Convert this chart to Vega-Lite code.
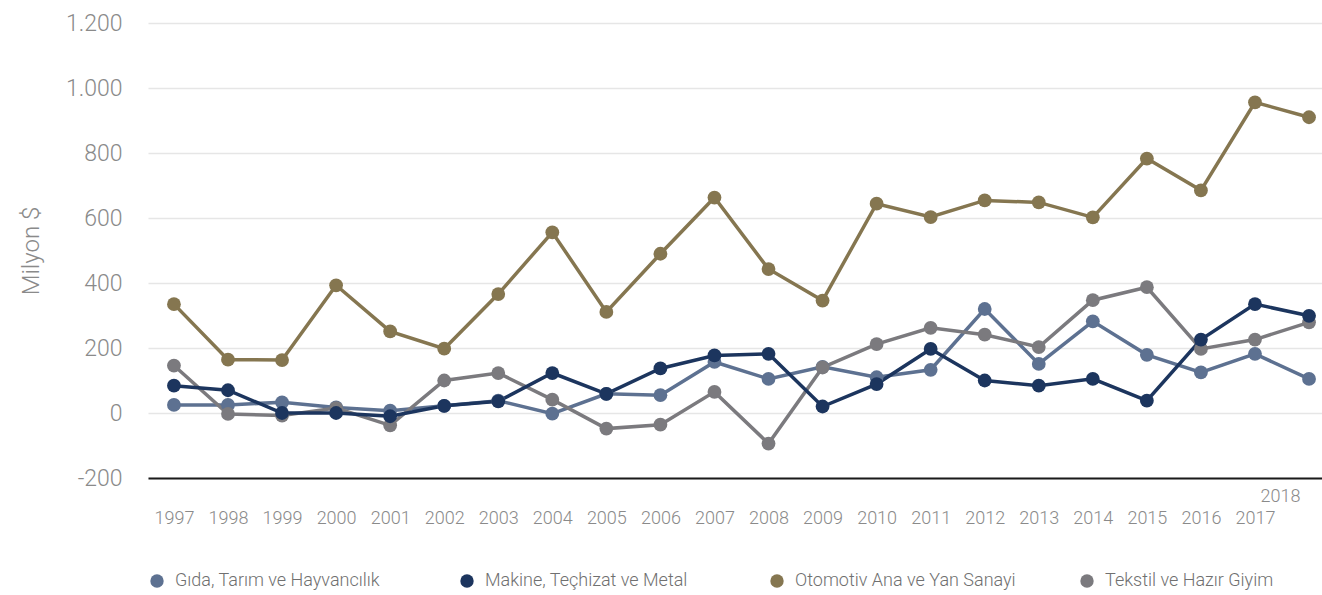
{
  "$schema": "https://vega.github.io/schema/vega-lite/v6.json",
  "width": 1174,
  "height": 455,
  "autosize": {"type": "none"},
  "padding": {"left": 148, "top": 23, "right": 0, "bottom": 117},
  "background": "white",
  "config": {
    "view": {"stroke": null},
    "font": "Roboto"
  },
  "data": {
    "values": [
      {"year": 1997, "series": "Gıda, Tarım ve Hayvancılık", "value": 25},
      {"year": 1998, "series": "Gıda, Tarım ve Hayvancılık", "value": 25},
      {"year": 1999, "series": "Gıda, Tarım ve Hayvancılık", "value": 33},
      {"year": 2000, "series": "Gıda, Tarım ve Hayvancılık", "value": 17},
      {"year": 2001, "series": "Gıda, Tarım ve Hayvancılık", "value": 7},
      {"year": 2002, "series": "Gıda, Tarım ve Hayvancılık", "value": 22},
      {"year": 2003, "series": "Gıda, Tarım ve Hayvancılık", "value": 38},
      {"year": 2004, "series": "Gıda, Tarım ve Hayvancılık", "value": -2},
      {"year": 2005, "series": "Gıda, Tarım ve Hayvancılık", "value": 59},
      {"year": 2006, "series": "Gıda, Tarım ve Hayvancılık", "value": 55},
      {"year": 2007, "series": "Gıda, Tarım ve Hayvancılık", "value": 157},
      {"year": 2008, "series": "Gıda, Tarım ve Hayvancılık", "value": 105},
      {"year": 2009, "series": "Gıda, Tarım ve Hayvancılık", "value": 142},
      {"year": 2010, "series": "Gıda, Tarım ve Hayvancılık", "value": 110},
      {"year": 2011, "series": "Gıda, Tarım ve Hayvancılık", "value": 133},
      {"year": 2012, "series": "Gıda, Tarım ve Hayvancılık", "value": 320},
      {"year": 2013, "series": "Gıda, Tarım ve Hayvancılık", "value": 151},
      {"year": 2014, "series": "Gıda, Tarım ve Hayvancılık", "value": 282},
      {"year": 2015, "series": "Gıda, Tarım ve Hayvancılık", "value": 179},
      {"year": 2016, "series": "Gıda, Tarım ve Hayvancılık", "value": 125},
      {"year": 2017, "series": "Gıda, Tarım ve Hayvancılık", "value": 182},
      {"year": 2018, "series": "Gıda, Tarım ve Hayvancılık", "value": 105},
      {"year": 1997, "series": "Otomotiv Ana ve Yan Sanayi", "value": 335},
      {"year": 1998, "series": "Otomotiv Ana ve Yan Sanayi", "value": 164},
      {"year": 1999, "series": "Otomotiv Ana ve Yan Sanayi", "value": 163},
      {"year": 2000, "series": "Otomotiv Ana ve Yan Sanayi", "value": 393},
      {"year": 2001, "series": "Otomotiv Ana ve Yan Sanayi", "value": 251},
      {"year": 2002, "series": "Otomotiv Ana ve Yan Sanayi", "value": 198},
      {"year": 2003, "series": "Otomotiv Ana ve Yan Sanayi", "value": 366},
      {"year": 2004, "series": "Otomotiv Ana ve Yan Sanayi", "value": 556},
      {"year": 2005, "series": "Otomotiv Ana ve Yan Sanayi", "value": 311},
      {"year": 2006, "series": "Otomotiv Ana ve Yan Sanayi", "value": 490},
      {"year": 2007, "series": "Otomotiv Ana ve Yan Sanayi", "value": 663},
      {"year": 2008, "series": "Otomotiv Ana ve Yan Sanayi", "value": 443},
      {"year": 2009, "series": "Otomotiv Ana ve Yan Sanayi", "value": 346},
      {"year": 2010, "series": "Otomotiv Ana ve Yan Sanayi", "value": 644},
      {"year": 2011, "series": "Otomotiv Ana ve Yan Sanayi", "value": 603},
      {"year": 2012, "series": "Otomotiv Ana ve Yan Sanayi", "value": 654},
      {"year": 2013, "series": "Otomotiv Ana ve Yan Sanayi", "value": 648},
      {"year": 2014, "series": "Otomotiv Ana ve Yan Sanayi", "value": 602},
      {"year": 2015, "series": "Otomotiv Ana ve Yan Sanayi", "value": 783},
      {"year": 2016, "series": "Otomotiv Ana ve Yan Sanayi", "value": 685},
      {"year": 2017, "series": "Otomotiv Ana ve Yan Sanayi", "value": 956},
      {"year": 2018, "series": "Otomotiv Ana ve Yan Sanayi", "value": 910},
      {"year": 1997, "series": "Tekstil ve Hazır Giyim", "value": 146},
      {"year": 1998, "series": "Tekstil ve Hazır Giyim", "value": -3},
      {"year": 1999, "series": "Tekstil ve Hazır Giyim", "value": -8},
      {"year": 2000, "series": "Tekstil ve Hazır Giyim", "value": 15},
      {"year": 2001, "series": "Tekstil ve Hazır Giyim", "value": -38},
      {"year": 2002, "series": "Tekstil ve Hazır Giyim", "value": 100},
      {"year": 2003, "series": "Tekstil ve Hazır Giyim", "value": 123},
      {"year": 2004, "series": "Tekstil ve Hazır Giyim", "value": 41},
      {"year": 2005, "series": "Tekstil ve Hazır Giyim", "value": -48},
      {"year": 2006, "series": "Tekstil ve Hazır Giyim", "value": -36},
      {"year": 2007, "series": "Tekstil ve Hazır Giyim", "value": 65},
      {"year": 2008, "series": "Tekstil ve Hazır Giyim", "value": -94},
      {"year": 2009, "series": "Tekstil ve Hazır Giyim", "value": 140},
      {"year": 2010, "series": "Tekstil ve Hazır Giyim", "value": 212},
      {"year": 2011, "series": "Tekstil ve Hazır Giyim", "value": 262},
      {"year": 2012, "series": "Tekstil ve Hazır Giyim", "value": 241},
      {"year": 2013, "series": "Tekstil ve Hazır Giyim", "value": 203},
      {"year": 2014, "series": "Tekstil ve Hazır Giyim", "value": 347},
      {"year": 2015, "series": "Tekstil ve Hazır Giyim", "value": 387},
      {"year": 2016, "series": "Tekstil ve Hazır Giyim", "value": 197},
      {"year": 2017, "series": "Tekstil ve Hazır Giyim", "value": 226},
      {"year": 2018, "series": "Tekstil ve Hazır Giyim", "value": 279},
      {"year": 1997, "series": "Makine, Teçhizat ve Metal", "value": 84},
      {"year": 1998, "series": "Makine, Teçhizat ve Metal", "value": 70},
      {"year": 1999, "series": "Makine, Teçhizat ve Metal", "value": 0},
      {"year": 2000, "series": "Makine, Teçhizat ve Metal", "value": 0},
      {"year": 2001, "series": "Makine, Teçhizat ve Metal", "value": -10},
      {"year": 2002, "series": "Makine, Teçhizat ve Metal", "value": 22},
      {"year": 2003, "series": "Makine, Teçhizat ve Metal", "value": 36},
      {"year": 2004, "series": "Makine, Teçhizat ve Metal", "value": 123},
      {"year": 2005, "series": "Makine, Teçhizat ve Metal", "value": 59},
      {"year": 2006, "series": "Makine, Teçhizat ve Metal", "value": 137},
      {"year": 2007, "series": "Makine, Teçhizat ve Metal", "value": 177},
      {"year": 2008, "series": "Makine, Teçhizat ve Metal", "value": 182},
      {"year": 2009, "series": "Makine, Teçhizat ve Metal", "value": 20},
      {"year": 2010, "series": "Makine, Teçhizat ve Metal", "value": 89},
      {"year": 2011, "series": "Makine, Teçhizat ve Metal", "value": 197},
      {"year": 2012, "series": "Makine, Teçhizat ve Metal", "value": 100},
      {"year": 2013, "series": "Makine, Teçhizat ve Metal", "value": 84},
      {"year": 2014, "series": "Makine, Teçhizat ve Metal", "value": 105},
      {"year": 2015, "series": "Makine, Teçhizat ve Metal", "value": 38},
      {"year": 2016, "series": "Makine, Teçhizat ve Metal", "value": 226},
      {"year": 2017, "series": "Makine, Teçhizat ve Metal", "value": 335},
      {"year": 2018, "series": "Makine, Teçhizat ve Metal", "value": 299}
    ]
  },
  "encoding": {
    "x": {
      "field": "year",
      "type": "quantitative",
      "scale": {"domain": [1996.52, 2018.24], "nice": false, "zero": false},
      "axis": {
        "title": null,
        "values": [1997, 1998, 1999, 2000, 2001, 2002, 2003, 2004, 2005, 2006, 2007, 2008, 2009, 2010, 2011, 2012, 2013, 2014, 2015, 2016, 2017, 2018],
        "format": "d",
        "grid": false,
        "ticks": false,
        "domain": true,
        "domainColor": "#1a1a1a",
        "domainWidth": 2,
        "labelFont": "Roboto",
        "labelFontWeight": 300,
        "labelFontSize": 18,
        "labelColor": "#8a8a8a",
        "labelBaseline": "top",
        "labelPadding": {"condition": {"test": "datum.value == 2018", "value": 9}, "value": 31},
        "labelOffset": {"condition": {"test": "datum.value == 2018", "value": -29}, "value": 0},
        "labelOverlap": false,
        "labelFlush": false
      }
    },
    "y": {
      "field": "value",
      "type": "quantitative",
      "scale": {"domain": [-200, 1200], "nice": false},
      "axis": {
        "title": "Milyon $",
        "titleFont": "Roboto",
        "titleFontWeight": 300,
        "titleFontSize": 24,
        "titleColor": "#8a8a8a",
        "titlePadding": 22,
        "values": [-200, 0, 200, 400, 600, 800, 1000, 1200],
        "labelExpr": "replace(replace(format(datum.value, ','), ',', '.'), '\u2212', '-')",
        "grid": true,
        "gridColor": "#e6e6e6",
        "gridWidth": 1.5,
        "ticks": false,
        "domain": false,
        "labelFont": "Roboto",
        "labelFontWeight": 300,
        "labelFontSize": 23,
        "labelColor": "#8a8a8a",
        "labelPadding": 26
      }
    },
    "color": {
      "field": "series",
      "type": "nominal",
      "sort": ["Gıda, Tarım ve Hayvancılık", "Makine, Teçhizat ve Metal", "Otomotiv Ana ve Yan Sanayi", "Tekstil ve Hazır Giyim"],
      "scale": {
        "domain": ["Gıda, Tarım ve Hayvancılık", "Makine, Teçhizat ve Metal", "Otomotiv Ana ve Yan Sanayi", "Tekstil ve Hazır Giyim"],
        "range": ["#5d7191", "#1c355e", "#857650", "#7b7a7e"]
      },
      "legend": {
        "title": null,
        "orient": "none",
        "legendX": 0,
        "legendY": 549,
        "direction": "horizontal",
        "columns": 4,
        "gridAlign": "all",
        "columnPadding": 62,
        "symbolType": "circle",
        "symbolSize": 180,
        "symbolStrokeWidth": 0,
        "labelFont": "Roboto",
        "labelFontWeight": 300,
        "labelFontSize": 18,
        "labelColor": "#707070",
        "labelLimit": 300,
        "labelOffset": 9
      }
    }
  },
  "layer": [
    {
      "mark": {"type": "line", "strokeWidth": 3.5, "clip": false}
    },
    {
      "mark": {"type": "point", "filled": true, "opacity": 1, "size": 190, "clip": false}
    }
  ]
}
